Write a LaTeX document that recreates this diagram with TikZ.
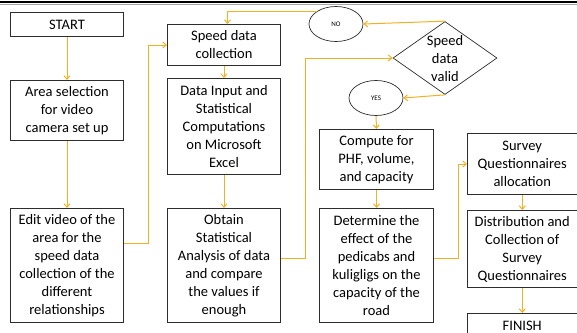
\documentclass[tikz,border=0pt]{standalone}
\usepackage{fontspec}
\setmainfont{Carlito}
\usetikzlibrary{shapes.geometric,arrows.meta}
\definecolor{boxc}{RGB}{45,45,45}
\definecolor{arrc}{RGB}{240,178,35}
\tikzset{
  box/.style={draw=boxc, line width=1pt, align=center, inner sep=0pt, anchor=north west,
    font=\fontsize{14.5}{18}\selectfont},
  oval/.style={ellipse, draw=boxc, line width=0.7pt, inner sep=0pt, minimum width=54pt, minimum height=35pt,
    font=\fontsize{7}{8}\selectfont},
  decision/.style={diamond, draw=boxc, line width=0.7pt, inner sep=0pt, minimum width=104pt, minimum height=73pt,
    font=\fontsize{14.5}{18}\selectfont},
  arr/.style={draw=arrc, line width=1pt, -{Straight Barb[length=3.5pt,width=6pt]}},
}
\begin{document}
\begin{tikzpicture}[x=1pt,y=-1pt]
\useasboundingbox (0,0) rectangle (577,332);
\draw[black, line width=2pt] (0,1.5) -- (577,1.5);
\draw[black!35, line width=0.8pt] (0,4) -- (577,4);

\node[box, minimum width=113pt, minimum height=24pt] (start) at (10,12) {START};
\node[box, minimum width=113pt, minimum height=60pt] (area) at (10,80) {Area selection\\for video\\camera set up};
\node[box, minimum width=113pt, minimum height=114pt] (edit) at (10,208) {Edit video of the\\area for the\\speed data\\collection of the\\different\\relationships};

\node[box, minimum width=113pt, minimum height=41pt] (speed) at (167,24) {Speed data\\collection};
\node[box, minimum width=113pt, minimum height=96pt] (datain) at (167,78) {Data Input and\\Statistical\\Computations\\on Microsoft\\Excel};
\node[box, minimum width=113pt, minimum height=114pt] (obtain) at (167,208) {Obtain\\Statistical\\Analysis of data\\and compare\\the values if\\enough};

\node[oval] (no) at (336,24) {NO};
\node[decision] (dia) at (445,58) {\smash{\raisebox{-5pt}{\begin{tabular}[c]{@{}c@{}}Speed\\data\\valid\end{tabular}}}};
\node[oval] (yes) at (376,98) {YES};

\node[box, minimum width=114pt, minimum height=60pt] (compute) at (319,129) {Compute for\\PHF, volume,\\and capacity};
\node[box, minimum width=114pt, minimum height=114pt] (determine) at (319,208) {Determine the\\effect of the\\pedicabs and\\kuligligs on the\\capacity of the\\road};

\node[box, minimum width=109.5pt, minimum height=61pt] (survey) at (467,133) {Survey\\Questionnaires\\allocation};
\node[box, minimum width=109.5pt, minimum height=77pt] (distr) at (467,210) {Distribution and\\Collection of\\Survey\\Questionnaires};
\node[box, minimum width=109.5pt, minimum height=24pt] (finish) at (467,313) {FINISH};

\draw[arr] (start.south) -- (area.north);
\draw[arr] (area.south) -- (edit.north);
\draw[arr] ([yshift=22pt]edit.east) -- ++(24,0) |- (speed.west);
\draw[arr] (speed.south) -- (datain.north);
\draw[arr] (datain.south) -- (obtain.north);
\draw[arr] ([yshift=7pt]obtain.east) -- ++(24,0) |- (dia.west);
\draw[arr] (dia.north) -- (no.east);
\draw[arr] (no.north west) -| ([xshift=3.5pt]speed.north);
\draw[arr] (dia.south) -- (yes.east);
\draw[arr] (yes.south) -- (compute.north);
\draw[arr] (compute.south) -- (determine.north);
\draw[arr] ([yshift=7pt]determine.east) -- ++(24,0) |- (survey.west);
\draw[arr] (survey.south) -- (distr.north);
\draw[arr] (distr.south) -- (finish.north);
\end{tikzpicture}
\end{document}
